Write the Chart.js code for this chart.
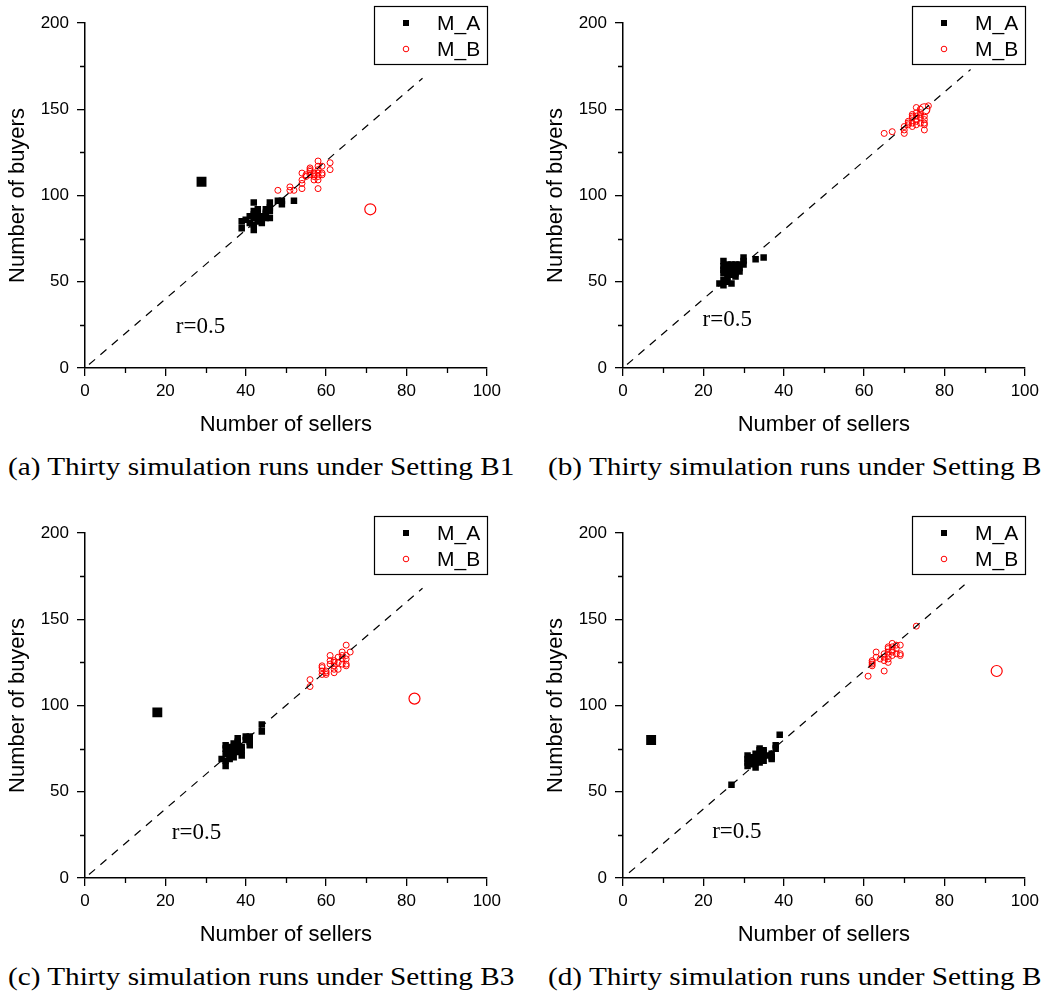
<!DOCTYPE html>
<html>
<head>
<meta charset="utf-8">
<title>Sellers vs buyers</title>
<script src="https://cdn.jsdelivr.net/npm/chart.js@4.4.1/dist/chart.umd.min.js"></script>
<style>
  html, body { margin: 0; padding: 0; background: #fff; overflow: hidden; }
  body { width: 1044px; height: 993px; position: relative; }
  .panel { position: absolute; width: 506px; height: 440px; }
  .caption {
    position: absolute;
    font-family: "Liberation Serif", "Times New Roman", serif;
    font-size: 25px;
    line-height: 25px;
    white-space: nowrap;
    color: #000;
    transform: scaleX(1.17);
    transform-origin: 0 0;
  }
</style>
</head>
<body>
<div class="panel" style="left:0;top:0"><canvas id="chartB1" width="506" height="440"></canvas></div>
<div class="panel" style="left:538px;top:0"><canvas id="chartB2" width="506" height="440"></canvas></div>
<div class="panel" style="left:0;top:510px"><canvas id="chartB3" width="506" height="440"></canvas></div>
<div class="panel" style="left:538px;top:510px"><canvas id="chartB4" width="506" height="440"></canvas></div>
<div class="caption" style="left:8px;top:454px">(a) Thirty simulation runs under Setting B1</div>
<div class="caption" style="left:548px;top:454px">(b) Thirty simulation runs under Setting B</div>
<div class="caption" style="left:8px;top:964px">(c) Thirty simulation runs under Setting B3</div>
<div class="caption" style="left:548px;top:964px">(d) Thirty simulation runs under Setting B</div>
<script>
// [sellers, buyers] for each of the thirty runs
const runsB1_MA = [[39,85],[39,81],[42,96],[42,80],[42,83],[41,88],[42,87],[43,90],[43,88],[44,84],
                   [44,86],[45,89],[45,90],[46,96],[46,93],[46,87],[46,91],[48,97],[49,95],[49,97],
                   [52,97],[43,85],[41,84],[42,91],[44,88],[45,87],[42,89],[43,92],[45,92],[40,86]];
const runsB1_MB = [[48,103],[51,105],[51,103],[52,103],[54,113],[54,109],[54,107],[54,104],[55,111],[56,116],
                   [56,115],[56,114],[57,113],[57,109],[57,112],[58,120],[58,117],[58,113],[58,109],[58,104],
                   [58,115],[59,117],[59,112],[59,113],[61,119],[61,115],[55,112],[57,111],[56,112],[58,111]];
const runsB2_MA = [[24,49],[25,48],[25,51],[26,53],[25,55],[26,57],[25,59],[25,62],[26,60],[27,49],
                   [27,54],[27,58],[28,60],[28,57],[28,53],[29,56],[29,60],[30,62],[30,64],[30,60],
                   [33,63],[35,64],[26,50],[27,56],[28,59],[26,55],[29,58],[25,57],[27,60],[28,55]];
const runsB2_MB = [[65,136],[67,137],[70,136],[70,138],[70,140],[71,142],[71,143],[72,147],[72,145],[72,140],
                   [72,142],[73,151],[73,144],[73,141],[73,146],[74,148],[74,142],[74,145],[75,146],[75,142],
                   [75,138],[75,144],[76,152],[72,146],[73,143],[74,147],[71,141],[75,141],[74,150],[73,148]];
const runsB3_MA = [[34,69],[35,68],[35,77],[35,75],[35,65],[36,70],[36,74],[36,72],[37,78],[37,76],
                   [38,81],[38,79],[38,75],[38,73],[39,71],[39,74],[40,82],[41,82],[41,77],[41,79],
                   [44,89],[44,85],[36,69],[37,73],[38,77],[35,72],[39,76],[36,76],[37,70],[40,80]];
const runsB3_MB = [[56,115],[56,111],[59,123],[59,122],[59,118],[60,119],[60,118],[61,129],[61,126],[62,126],
                   [62,123],[62,119],[62,125],[63,121],[64,131],[64,127],[64,124],[65,135],[65,129],[65,124],
                   [65,123],[66,131],[60,120],[61,124],[63,125],[64,129],[59,120],[62,121],[65,127],[63,128]];
const runsB4_MA = [[27,54],[31,71],[31,65],[31,69],[32,68],[32,66],[33,64],[33,70],[33,67],[33,69],
                   [34,75],[34,67],[34,72],[34,70],[35,73],[35,74],[35,71],[37,72],[37,69],[37,70],
                   [38,77],[38,75],[39,83],[32,70],[33,72],[34,68],[35,68],[31,67],[36,71],[34,74]];
const runsB4_MB = [[61,117],[62,125],[62,123],[62,126],[63,131],[63,128],[65,128],[65,126],[65,120],[66,133],
                   [66,131],[66,125],[66,129],[67,136],[67,129],[67,134],[68,133],[68,130],[69,135],[69,130],
                   [69,129],[73,146],[64,127],[65,130],[66,127],[67,132],[68,135],[62,124],[66,134],[67,131]];

// single large markers of each setting
const keyB1_MA = [29, 108], keyB1_MB = [71, 92];
const keyB2_MA = [26, 57],  keyB2_MB = [75, 150];
const keyB3_MA = [18, 96],  keyB3_MB = [82, 104];
const keyB4_MA = [7, 80],   keyB4_MB = [93, 120];

// reference line buyers = sellers / r, drawn over this sellers range
const ratio = 0.5;
const refRangeB1 = [1, 84];
const refRangeB2 = [1, 86.5];
const refRangeB3 = [1, 84];
const refRangeB4 = [1.5, 85];

const xTicks = [0, 20, 40, 60, 80, 100];
const yTicks = [0, 50, 100, 150, 200];
const xMinor = [10, 30, 50, 70, 90];
const yMinor = [25, 75, 125, 175];

const sansFont = '"Liberation Sans", Arial, sans-serif';
const serifFont = '"Liberation Serif", "Times New Roman", serif';

const toPoints = pairs => pairs.map(p => ({ x: p[0], y: p[1] }));

// short outward ticks between the labelled ones
const minorTicks = {
  id: 'minorTicks',
  afterDraw(chart) {
    const { ctx, chartArea, scales } = chart;
    ctx.save();
    ctx.strokeStyle = '#000';
    ctx.lineWidth = 1.3;
    ctx.beginPath();
    xMinor.forEach(v => {
      const px = Math.round(scales.x.getPixelForValue(v)) + 0.5;
      ctx.moveTo(px, chartArea.bottom);
      ctx.lineTo(px, chartArea.bottom + 5);
    });
    yMinor.forEach(v => {
      const py = Math.round(scales.y.getPixelForValue(v)) + 0.5;
      ctx.moveTo(chartArea.left - 5, py);
      ctx.lineTo(chartArea.left, py);
    });
    ctx.stroke();
    ctx.restore();
  }
};

// boxed legend in the top right corner, partly above the plot
const boxLegend = {
  id: 'boxLegend',
  afterDraw(chart) {
    const { ctx, chartArea } = chart;
    const w = 113, h = 58;
    const left = Math.round(chartArea.right - w), top = Math.round(chartArea.top - 17);
    ctx.save();
    ctx.fillStyle = '#fff';
    ctx.fillRect(left, top, w, h);
    ctx.strokeStyle = '#000';
    ctx.lineWidth = 1.2;
    ctx.strokeRect(left + 0.5, top + 0.5, w, h);
    const rows = chart.data.datasets.filter(d => d.label === 'M_A' || d.label === 'M_B');
    rows.forEach((d, i) => {
      const cy = top + 17 + i * 26;
      const mx = left + 32;
      if (d.pointStyle === 'rect') {
        ctx.fillStyle = d.backgroundColor;
        ctx.fillRect(mx - 3, cy - 3, 6, 6);
      } else {
        ctx.beginPath();
        ctx.arc(mx, cy, 2.8, 0, Math.PI * 2);
        ctx.strokeStyle = d.borderColor;
        ctx.lineWidth = 1;
        ctx.stroke();
      }
      ctx.fillStyle = '#000';
      ctx.font = '21px ' + sansFont;
      ctx.textBaseline = 'middle';
      ctx.fillText(d.label, left + 63, cy + 1);
    });
    ctx.restore();
  }
};

// "r=0.5" note placed in data coordinates
const ratioNote = {
  id: 'ratioNote',
  afterDatasetsDraw(chart, args, opts) {
    const { ctx, scales } = chart;
    ctx.save();
    ctx.fillStyle = '#000';
    ctx.font = '23px ' + serifFont;
    ctx.textBaseline = 'alphabetic';
    ctx.fillText('r=' + ratio, scales.x.getPixelForValue(opts.at[0]), scales.y.getPixelForValue(opts.at[1]));
    ctx.restore();
  }
};

function axis(ticksList, stepSize, title, horizontal) {
  return {
    type: 'linear',
    min: 0,
    max: horizontal ? 100 : 200,
    afterBuildTicks: s => { s.ticks = ticksList.map(v => ({ value: v })); },
    ticks: {
      stepSize: stepSize,
      color: '#000',
      font: { family: sansFont, size: 17 },
      padding: horizontal ? 5 : 8,
      maxRotation: 0,
      autoSkip: false
    },
    grid: { drawOnChartArea: false, drawTicks: true, tickLength: 8, color: '#000', lineWidth: 1.3 },
    border: { color: '#000', width: 1.5 },
    title: {
      display: true,
      text: title,
      color: '#000',
      font: { family: sansFont, size: 22 },
      padding: horizontal ? { top: 2, bottom: 2 } : { top: 5, bottom: 5 }
    },
    afterFit: s => { if (horizontal) s.height = 72; else s.width = 85; }
  };
}

function makeChart(id, runsA, runsB, keyA, keyB, refRange, noteAt) {
  return new Chart(document.getElementById(id), {
    type: 'scatter',
    data: {
      datasets: [
        {
          type: 'line',
          label: 'r',
          data: refRange.map(s => ({ x: s, y: s / ratio })),
          borderColor: '#000',
          borderWidth: 1.2,
          borderDash: [8, 7],
          pointRadius: 0,
          fill: false,
          order: 0
        },
        {
          label: 'M_A',
          data: toPoints(runsA),
          pointStyle: 'rect',
          pointRadius: 4.6,
          backgroundColor: '#000',
          borderColor: '#000',
          borderWidth: 0,
          order: 2
        },
        {
          label: 'M_B',
          data: toPoints(runsB),
          pointStyle: 'circle',
          pointRadius: 3,
          backgroundColor: 'rgba(255,255,255,0)',
          borderColor: '#ff0000',
          borderWidth: 1,
          order: 1
        },
        {
          label: 'M_A key',
          data: toPoints([keyA]),
          pointStyle: 'rect',
          pointRadius: 7,
          backgroundColor: '#000',
          borderColor: '#000',
          borderWidth: 0,
          order: 2
        },
        {
          label: 'M_B key',
          data: toPoints([keyB]),
          pointStyle: 'circle',
          pointRadius: 5.5,
          backgroundColor: 'rgba(255,255,255,0)',
          borderColor: '#ff0000',
          borderWidth: 1.2,
          order: 1
        }
      ]
    },
    options: {
      responsive: false,
      animation: false,
      layout: { padding: { top: 23, right: 19, left: 0, bottom: 0 } },
      scales: {
        x: axis(xTicks, 20, 'Number of sellers', true),
        y: axis(yTicks, 50, 'Number of buyers', false)
      },
      plugins: {
        legend: { display: false },
        tooltip: { enabled: false },
        ratioNote: { at: noteAt }
      }
    },
    plugins: [minorTicks, ratioNote, boxLegend]
  });
}

makeChart('chartB1', runsB1_MA, runsB1_MB, keyB1_MA, keyB1_MB, refRangeB1, [22.6, 20.3]);
makeChart('chartB2', runsB2_MA, runsB2_MB, keyB2_MA, keyB2_MB, refRangeB2, [19.8, 24.3]);
makeChart('chartB3', runsB3_MA, runsB3_MB, keyB3_MA, keyB3_MB, refRangeB3, [21.6, 22.8]);
makeChart('chartB4', runsB4_MA, runsB4_MB, keyB4_MA, keyB4_MB, refRangeB4, [22.2, 23.2]);
</script>
</body>
</html>
